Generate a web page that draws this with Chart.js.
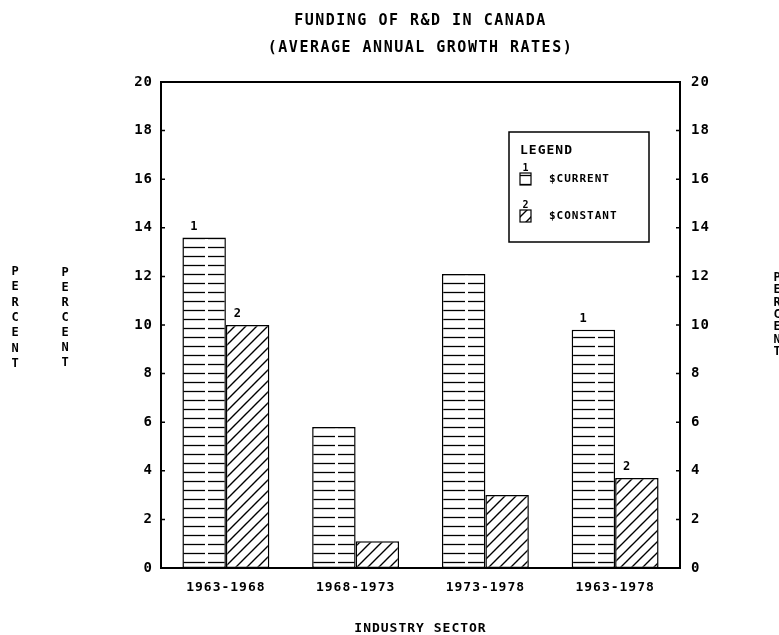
<!DOCTYPE html>
<html><head><meta charset="utf-8">
<script src="https://cdn.jsdelivr.net/npm/chart.js@4/dist/chart.umd.min.js"></script>
<style>html,body{margin:0;padding:0;background:#fff;}#wrap{width:779px;height:635px;}</style>
</head><body><div id="wrap"><canvas id="c" width="779" height="635"></canvas></div>
<script>
const categories = ['1963-1968', '1968-1973', '1973-1978', '1963-1978'];
const currentValues = [13.6, 5.8, 12.1, 9.8];
const constantValues = [10.0, 1.1, 3.0, 3.7];
const currentMarks = ['1', '', '', '1'];
const constantMarks = ['2', '', '', '2'];
const yTicks = [0, 2, 4, 6, 8, 10, 12, 14, 16, 18, 20];
const titleLines = ['FUNDING OF R&D IN CANADA', '(AVERAGE ANNUAL GROWTH RATES)'];
const seriesNames = ['$CURRENT', '$CONSTANT'];
const seriesNumbers = ['1', '2'];
const legendTitle = 'LEGEND';
const yAxisTitle = 'PERCENT';
const xAxisTitle = 'INDUSTRY SECTOR';

const MONO = '"DejaVu Sans Mono", "Liberation Mono", monospace';
const canvas = document.getElementById('c');
const ctx0 = canvas.getContext('2d');

function makeHPattern() {
  const c = document.createElement('canvas'); c.width = 26; c.height = 9;
  const g = c.getContext('2d');
  g.fillStyle = '#fff'; g.fillRect(0, 0, 26, 9);
  g.strokeStyle = '#000'; g.lineWidth = 1.3;
  g.beginPath(); g.moveTo(0, 4.5); g.lineTo(23, 4.5); g.stroke();
  return ctx0.createPattern(c, 'repeat');
}
function makeDPattern() {
  const s = 11;
  const c = document.createElement('canvas'); c.width = s; c.height = s;
  const g = c.getContext('2d');
  g.fillStyle = '#fff'; g.fillRect(0, 0, s, s);
  g.strokeStyle = '#000'; g.lineWidth = 1.4;
  g.beginPath();
  g.moveTo(-1, s + 1); g.lineTo(s + 1, -1);
  g.moveTo(-2, 2); g.lineTo(2, -2);
  g.moveTo(s - 2, s + 2); g.lineTo(s + 2, s - 2);
  g.stroke();
  return ctx0.createPattern(c, 'repeat');
}
const hPat = makeHPattern();
const dPat = makeDPattern();

const decor = {
  id: 'decor',
  beforeDraw(chart) {
    chart.ctx.letterSpacing = '1px';
  },
  afterDatasetsDraw(chart) {
    const ctx = chart.ctx;
    const a = chart.chartArea;
    const y = chart.scales.y;
    ctx.save();
    ctx.strokeStyle = '#000';
    ctx.lineWidth = 2;
    ctx.strokeRect(a.left, a.top, a.right - a.left, a.bottom - a.top);
    ctx.lineWidth = 1.5;
    ctx.beginPath();
    yTicks.forEach(v => {
      const py = y.getPixelForValue(v);
      ctx.moveTo(a.left, py); ctx.lineTo(a.left + 4, py);
      ctx.moveTo(a.right - 4, py); ctx.lineTo(a.right, py);
    });
    ctx.stroke();

    // bar number marks
    ctx.fillStyle = '#000';
    ctx.font = 'bold 12px ' + MONO;
    ctx.textAlign = 'center';
    ctx.textBaseline = 'middle';
    [currentMarks, constantMarks].forEach((marks, di) => {
      const meta = chart.getDatasetMeta(di);
      meta.data.forEach((bar, i) => {
        if (!marks[i]) return;
        ctx.fillText(marks[i], bar.x - bar.width / 2 + 12, bar.y - 11);
      });
    });

    // legend box
    const lx = a.right - 171, ly = a.top + 50, lw = 140, lh = 110;
    ctx.fillStyle = '#fff';
    ctx.fillRect(lx, ly, lw, lh);
    ctx.lineWidth = 1.5;
    ctx.strokeRect(lx, ly, lw, lh);
    ctx.fillStyle = '#000';
    ctx.textAlign = 'left';
    ctx.font = 'bold 13px ' + MONO;
    ctx.fillText(legendTitle, lx + 11, ly + 19);
    const pats = [hPat, dPat];
    seriesNames.forEach((name, i) => {
      const sy = ly + 46 + i * 37;
      ctx.font = 'bold 10px ' + MONO;
      ctx.textAlign = 'center';
      ctx.fillText(seriesNumbers[i], lx + 17, sy - 10);
      ctx.fillStyle = pats[i];
      ctx.fillRect(lx + 11, sy - 5, 11, 12);
      ctx.fillStyle = '#000';
      ctx.lineWidth = 1.2;
      ctx.strokeRect(lx + 11, sy - 5, 11, 12);
      ctx.font = 'bold 11px ' + MONO;
      ctx.textAlign = 'left';
      ctx.fillText(name, lx + 40, sy + 1);
    });
    ctx.restore();
  },
  afterDraw(chart) {
    const ctx = chart.ctx;
    const a = chart.chartArea;
    const cx = (a.left + a.right) / 2;
    ctx.save();
    ctx.fillStyle = '#000';
    ctx.letterSpacing = '1.5px';
    ctx.font = 'bold 15px ' + MONO;
    ctx.textAlign = 'center';
    ctx.textBaseline = 'middle';
    ctx.fillText(titleLines[0], cx, 21);
    ctx.fillText(titleLines[1], cx, 48);
    ctx.letterSpacing = '1px';
    ctx.font = 'bold 13px ' + MONO;
    ctx.textBaseline = 'top';
    ctx.fillText(xAxisTitle, cx, 622);
    // vertical stacked axis titles
    ctx.font = 'bold 12px ' + MONO;
    ctx.textBaseline = 'middle';
    ctx.letterSpacing = '0px';
    const stacks = [[15, 272, 15.3], [65, 273, 15], [777, 278, 12.3]];
    stacks.forEach(([x, y0, step]) => {
      for (let k = 0; k < yAxisTitle.length; k++) {
        ctx.fillText(yAxisTitle[k], x, y0 + k * step);
      }
    });
    ctx.restore();
  }
};

const tickFontY = { family: MONO, size: 14, weight: 'bold' };
const tickFontX = { family: MONO, size: 13, weight: 'bold' };

new Chart(canvas, {
  type: 'bar',
  data: {
    labels: categories,
    datasets: [
      { label: seriesNames[0], data: currentValues, backgroundColor: hPat, borderColor: '#000', borderWidth: 1.5, borderSkipped: false, yAxisID: 'y' },
      { label: seriesNames[1], data: constantValues, backgroundColor: dPat, borderColor: '#000', borderWidth: 1.5, borderSkipped: false, yAxisID: 'y' }
    ]
  },
  options: {
    responsive: false,
    animation: false,
    events: [],
    layout: { padding: { top: 82, left: 0, right: 0, bottom: 0 } },
    datasets: { bar: { categoryPercentage: 0.67, barPercentage: 1.0 } },
    plugins: { legend: { display: false }, title: { display: false }, tooltip: { enabled: false } },
    scales: {
      x: {
        grid: { display: false, drawTicks: false }, border: { display: false },
        ticks: { font: tickFontX, color: '#000', padding: 12, maxRotation: 0 },
        afterFit(s) { s.height = 67; }
      },
      y: {
        position: 'left', min: 0, max: 20,
        grid: { display: false, drawTicks: false }, border: { display: false },
        ticks: { font: tickFontY, color: '#000', padding: 8 },
        afterBuildTicks(s) { s.ticks = yTicks.map(v => ({ value: v })); },
        afterFit(s) { s.width = 161; }
      },
      y2: {
        position: 'right', min: 0, max: 20,
        grid: { display: false, drawTicks: false }, border: { display: false },
        ticks: { font: tickFontY, color: '#000', padding: 11 },
        afterBuildTicks(s) { s.ticks = yTicks.map(v => ({ value: v })); },
        afterFit(s) { s.width = 99; }
      }
    }
  },
  plugins: [decor]
});
</script>
</body></html>
